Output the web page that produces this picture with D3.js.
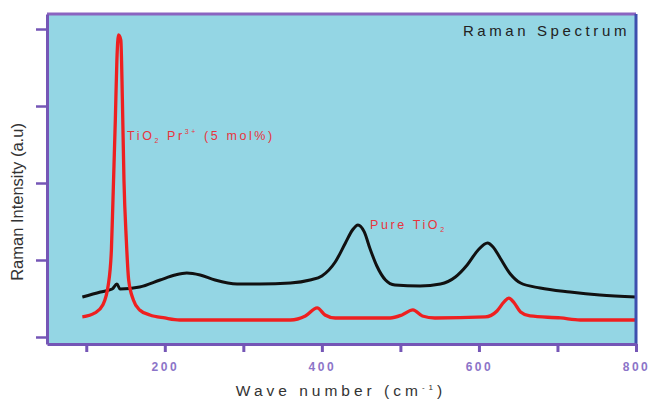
<!DOCTYPE html>
<html><head><meta charset="utf-8">
<script src="https://cdn.jsdelivr.net/npm/d3@7"></script>
<style>body{margin:0;background:#fff}svg{display:block}text{font-family:"Liberation Sans",Arial,sans-serif}</style>
</head><body><svg id="c" width="649" height="400"></svg>
<script>
// Wave number (cm^-1) and intensity (a.u.)
const pureWave = [95,118,133,139,143,168,194,213,228,245,264,292,321,360,385,400,417,430,439,446,454,461,470,481,493,525,551,570,585,599,611,618,627,640,653,678,716,754,800];
const pureInt  = [519,584,623,688,623,649,740,805,831,805,740,688,688,701,740,792,974,1221,1390,1455,1364,1156,922,740,675,662,688,779,935,1130,1221,1169,1026,818,701,636,584,545,519];
const prWave = [95,111,121,128,132,134,137,139,141,144,146,148,151,154,160,168,181,200,219,360,379,394,404,417,487,502,516,528,544,608,623,632,638,645,653,665,704,729,800];
const prInt  = [260,312,416,675,1130,1779,2818,3597,3922,3857,3078,2039,1260,740,481,351,286,247,221,221,273,377,286,247,247,286,351,273,247,260,338,455,506,442,325,273,247,221,221];
const xTicks = [100,200,300,400,500,600,700,800];
const xLabels = [200,400,600,800];
const yTicks = [0,1000,2000,3000,4000];

const svg = d3.select("#c");
const L=47,R=636,T=14,B=344;
const x = d3.scaleLinear().domain([50,800]).range([L,R]);
const y = d3.scaleLinear().domain([-91,4195]).range([B,T]);

svg.append("rect").attr("x",L).attr("y",T).attr("width",R-L).attr("height",B-T).attr("fill","#94d6e4");

const line = d3.line().x(d=>x(d[0])).y(d=>y(d[1])).curve(d3.curveMonotoneX);
svg.append("path").datum(pureWave.map((w,i)=>[w,pureInt[i]])).attr("d",line)
  .attr("fill","none").attr("stroke","#111").attr("stroke-width",3).attr("stroke-linejoin","round");
svg.append("path").datum(prWave.map((w,i)=>[w,prInt[i]])).attr("d",line)
  .attr("fill","none").attr("stroke","#ee2020").attr("stroke-width",3.3).attr("stroke-linejoin","round");

const axCol="#7556b6";
svg.append("line").attr("x1",L).attr("x2",R).attr("y1",T).attr("y2",T).attr("stroke","#8a64c0").attr("stroke-width",3);
svg.append("line").attr("x1",R).attr("x2",R).attr("y1",T).attr("y2",B).attr("stroke","#3d4fae").attr("stroke-width",3);

const xAxis = svg.append("g").attr("transform",`translate(0,${B})`)
  .call(d3.axisBottom(x).tickValues(xTicks).tickSize(8).tickSizeOuter(0)
    .tickFormat(d=>xLabels.includes(d)?String(d):""));
xAxis.select(".domain").attr("stroke",axCol).attr("stroke-width",3);
xAxis.selectAll(".tick line").attr("stroke",axCol).attr("stroke-width",3);
xAxis.selectAll(".tick text").attr("fill","#8c74c8").attr("font-size",12).attr("dy","1.3em")
  .style("letter-spacing","2.5px").style("font-weight","bold");

const yAxis = svg.append("g").attr("transform",`translate(${L},0)`)
  .call(d3.axisLeft(y).tickValues(yTicks).tickSize(11).tickSizeOuter(0).tickFormat(""));
yAxis.select(".domain").attr("stroke",axCol).attr("stroke-width",3);
yAxis.selectAll(".tick line").attr("stroke",axCol).attr("stroke-width",2.5);

svg.append("text").attr("x",630).attr("y",36).attr("text-anchor","end").attr("font-size",15)
  .attr("fill","#222").style("letter-spacing","3.6px").text("Raman Spectrum");

const t1 = svg.append("text").attr("x",127).attr("y",140).attr("font-size",12.5).attr("fill","#e8343c").style("letter-spacing","2.6px");
t1.append("tspan").text("TiO");
t1.append("tspan").attr("font-size",7).attr("dy",3).text("2");
t1.append("tspan").attr("dy",-3).text(" Pr");
t1.append("tspan").attr("font-size",7).attr("dy",-6).text("3+");
t1.append("tspan").attr("dy",6).text(" (5 mol%)");

const t2 = svg.append("text").attr("x",370).attr("y",229).attr("font-size",12.5).attr("fill","#e8343c").style("letter-spacing","2.6px");
t2.append("tspan").text("Pure TiO");
t2.append("tspan").attr("font-size",7).attr("dy",3).text("2");

svg.append("text").attr("transform","translate(23,202) rotate(-90)").attr("text-anchor","middle")
  .attr("font-size",16.5).attr("fill","#333").text("Raman Intensity (a.u)");

const t3 = svg.append("text").attr("x",341).attr("y",396).attr("text-anchor","middle").attr("font-size",15.5)
  .attr("fill","#333").style("letter-spacing","4px");
t3.append("tspan").text("Wave number (cm");
t3.append("tspan").attr("font-size",8).attr("dy",-6).text("-1");
t3.append("tspan").attr("dy",6).text(")");
</script></body></html>
